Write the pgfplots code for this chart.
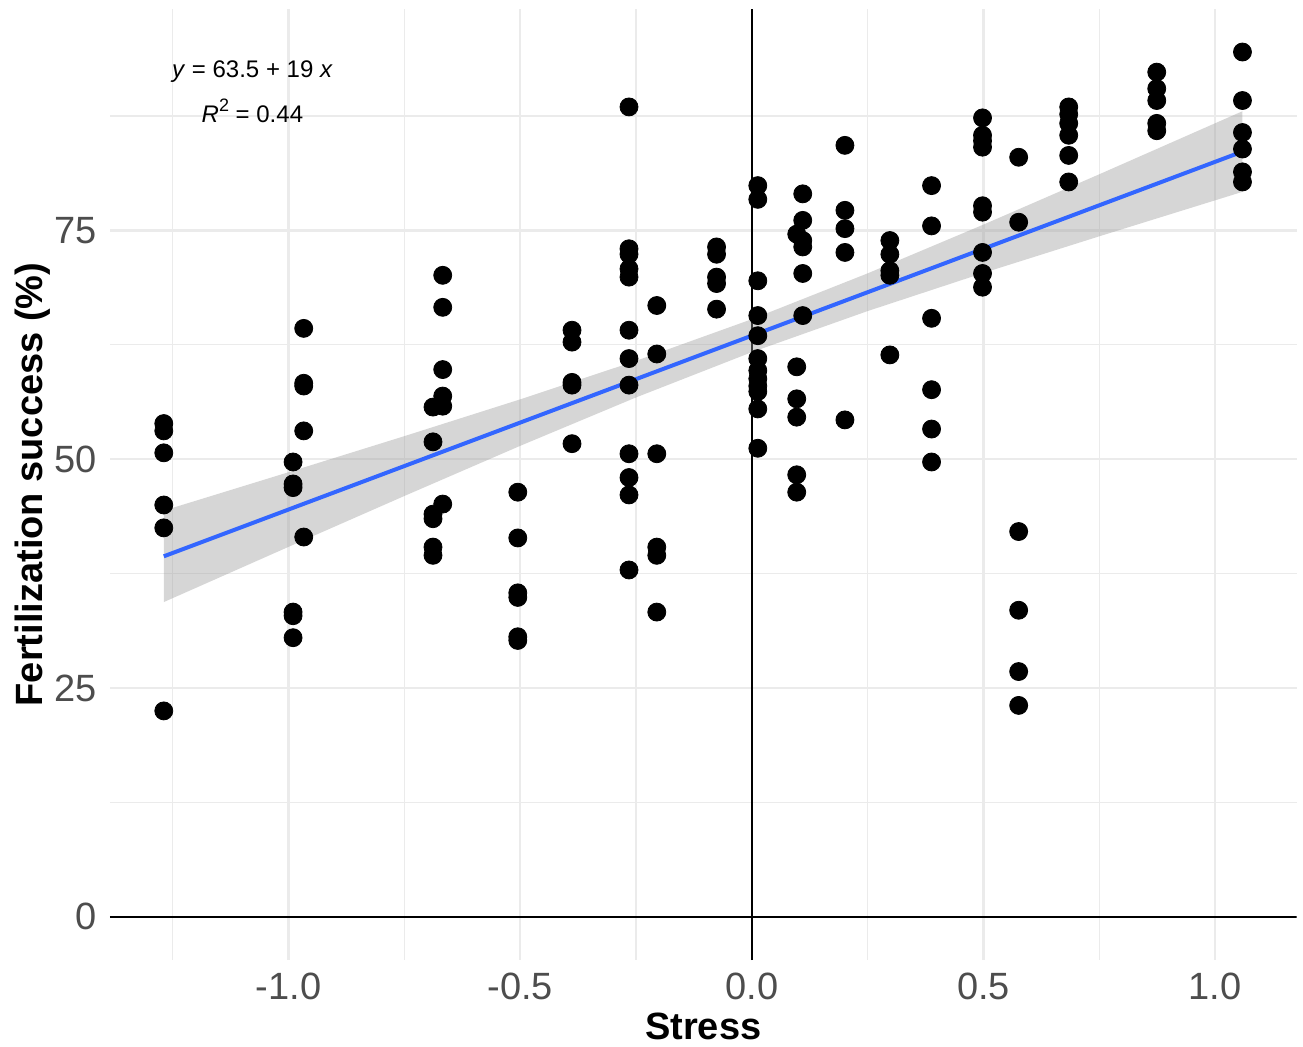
\documentclass[border=0pt]{standalone}
\usepackage{pgfplots}
\pgfplotsset{compat=1.18}
\usepackage{fontspec}
\setmainfont{Liberation Sans}
\definecolor{gridc}{HTML}{EBEBEB}
\definecolor{tickc}{HTML}{4D4D4D}
\definecolor{fitc}{HTML}{3366FF}
\definecolor{bandc}{HTML}{999999}
\begin{document}
\begin{tikzpicture}
\useasboundingbox (-55pt,-43pt) rectangle (596.5pt,480pt);
\begin{axis}[
  at={(0,0)}, anchor=south west,
  scale only axis, width=593.3pt, height=475.5pt,
  xmin=-1.3851, xmax=1.1758, ymin=-4.72, ymax=99.2,
  axis line style={draw=none},
  major tick length=0pt, minor tick length=0pt,
  xtick={-1,-0.5,0,0.5,1}, xticklabels={-1.0,-0.5,0.0,0.5,1.0},
  minor xtick={-1.25,-0.75,-0.25,0.25,0.75},
  ytick={0,25,50,75}, yticklabels={0,25,50,75},
  minor ytick={12.5,37.5,62.5,87.5},
  grid=both,
  major grid style={gridc, line width=1.1pt},
  minor grid style={gridc, line width=0.6pt},
  xticklabel style={font=\fontsize{19}{19}\selectfont, text=tickc, anchor=north, inner sep=0pt, yshift=-6.5pt},
  yticklabel style={font=\fontsize{19}{19}\selectfont, text=tickc, anchor=east, inner sep=0pt, xshift=-6.5pt},
  xlabel={Stress}, ylabel={Fertilization success (\%)},
  xlabel style={font=\fontsize{19}{19}\selectfont\bfseries, at={(axis description cs:0.5,-0.0835)}, anchor=base, inner sep=0pt},
  ylabel style={font=\fontsize{19}{19}\selectfont\bfseries, at={(axis description cs:-0.0565,0.5)}, anchor=base, inner sep=0pt},
]
% reference lines
\addplot[black, line width=1pt] coordinates {(-1.3851,0) (1.1758,0)};
\addplot[black, line width=1pt] coordinates {(0,-4.72) (0,99.2)};
% confidence band
\addplot[draw=none, fill=bandc, fill opacity=0.4] coordinates {
 (-1.269,44.39) (-1.0,48.58) (-0.75,52.52) (-0.5,56.54) (-0.25,60.75) (0,65.30)
 (0.25,70.31) (0.5,75.64) (0.75,81.14) (1.059,88.03)
 (1.059,79.22) (0.75,74.36) (0.5,70.36) (0.25,66.19) (0,61.70) (-0.25,56.75)
 (-0.5,51.46) (-0.75,45.98) (-1.0,40.42) (-1.269,34.39)} -- cycle;
% fit line
\addplot[fitc, line width=2pt] coordinates {(-1.269,39.39) (1.059,83.62)};
% points
\addplot[only marks, mark=*, mark size=4.5pt, mark options={draw=black, fill=black}] coordinates {
 (-1.269,53.9) (-1.269,53.1) (-1.269,50.7) (-1.269,45.0) (-1.269,42.5) (-1.269,22.5)
 (-0.990,49.7) (-0.990,47.3) (-0.990,46.9) (-0.990,33.3) (-0.990,32.9) (-0.990,30.5)
 (-0.967,64.3) (-0.967,58.3) (-0.967,58.0) (-0.967,53.1) (-0.967,41.5)
 (-0.688,55.7) (-0.688,51.9) (-0.688,44.0) (-0.688,43.5) (-0.688,40.4) (-0.688,39.5)
 (-0.667,70.1) (-0.667,66.6) (-0.667,59.8) (-0.667,56.9) (-0.667,55.8) (-0.667,45.1)
 (-0.505,46.4) (-0.505,41.4) (-0.505,35.4) (-0.505,34.9) (-0.505,30.6) (-0.505,30.2)
 (-0.388,64.1) (-0.388,62.8) (-0.388,58.4) (-0.388,58.1) (-0.388,51.7)
 (-0.265,88.5) (-0.265,73.0) (-0.265,72.4) (-0.265,70.8) (-0.265,69.9) (-0.265,64.1)
 (-0.265,61.0) (-0.265,58.1) (-0.265,50.6) (-0.265,48.0) (-0.265,46.1) (-0.265,37.9)
 (-0.205,66.8) (-0.205,61.5) (-0.205,50.6) (-0.205,40.4) (-0.205,39.5) (-0.205,33.3)
 (-0.076,73.2) (-0.076,72.4) (-0.076,69.9) (-0.076,69.2) (-0.076,66.4)
 (0.013,79.9) (0.013,78.4) (0.013,69.5) (0.013,65.7) (0.013,63.5) (0.013,61.0)
 (0.013,59.7) (0.013,58.8) (0.013,58.0) (0.013,57.4) (0.013,55.5) (0.013,51.2)
 (0.097,74.6) (0.097,60.1) (0.097,56.6) (0.097,54.6) (0.097,48.3) (0.097,46.4)
 (0.110,79.0) (0.110,76.1) (0.110,73.9) (0.110,73.2) (0.110,70.3) (0.110,65.7)
 (0.201,84.3) (0.201,77.2) (0.201,75.2) (0.201,72.6) (0.201,54.3)
 (0.298,73.9) (0.298,72.4) (0.298,70.6) (0.298,70.1) (0.298,61.4)
 (0.388,79.9) (0.388,75.5) (0.388,65.4) (0.388,57.6) (0.388,53.3) (0.388,49.7)
 (0.498,87.3) (0.498,85.4) (0.498,84.8) (0.498,84.1) (0.498,77.7) (0.498,77.0)
 (0.498,72.6) (0.498,70.3) (0.498,68.8)
 (0.576,83.0) (0.576,75.9) (0.576,42.1) (0.576,33.5) (0.576,26.8) (0.576,23.1)
 (0.684,88.5) (0.684,87.7) (0.684,86.7) (0.684,85.4) (0.684,83.2) (0.684,80.3)
 (0.874,92.3) (0.874,90.5) (0.874,89.2) (0.874,86.7) (0.874,85.9)
 (1.059,94.5) (1.059,89.2) (1.059,85.7) (1.059,83.9) (1.059,81.4) (1.059,80.3)
};
\node[anchor=base, inner sep=0pt, font=\fontsize{12}{12}\selectfont] at (axis cs:-1.0777,91.67) {\textit{y} = 63.5 + 19 \textit{x}};
\node[anchor=base, inner sep=0pt, font=\fontsize{12}{12}\selectfont] at (axis cs:-1.0777,86.82) {\textit{R}\raisebox{0.45em}{\fontsize{9}{9}\selectfont 2} = 0.44};
\end{axis}
\end{tikzpicture}
\end{document}
